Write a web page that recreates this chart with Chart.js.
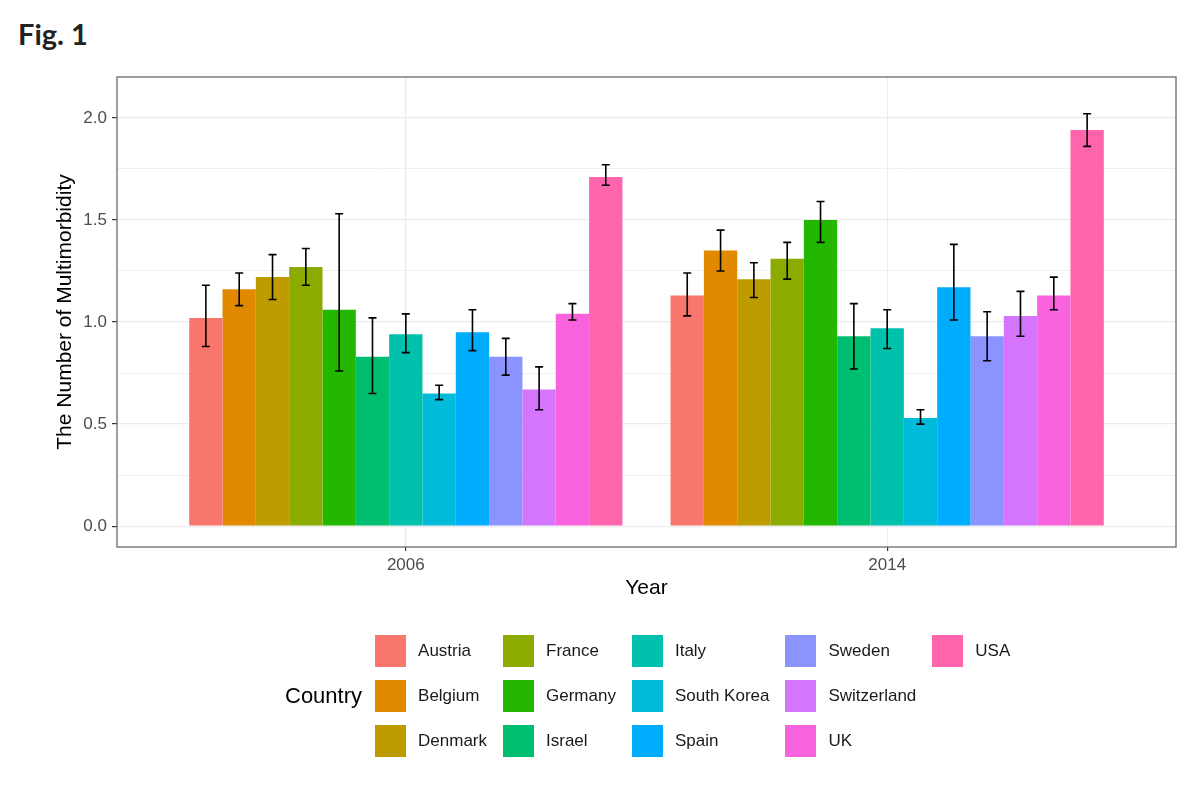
<!DOCTYPE html>
<html>
<head>
<meta charset="utf-8">
<script src="https://cdn.jsdelivr.net/npm/chart.js@4.4.1/dist/chart.umd.min.js"></script>
<style>
  html, body { margin: 0; padding: 0; background: #fff; }
  body { width: 1200px; height: 786px; position: relative; overflow: hidden; }
  #graph { position: absolute; left: 0; top: 0; }
  #fig { position: absolute; left: 18px; top: 19px; font: bold 29px/29px Lato, "Open Sans", sans-serif; color: #222; }
  #legend { position: absolute; left: 285px; top: 628px; display: flex; align-items: center; font-family: "Liberation Sans", Arial, sans-serif; }
  #legend .title { font-size: 22px; color: #000; margin-right: 13px; }
  #legend .items { display: grid; grid-auto-flow: column; grid-template-rows: repeat(3, 45px); column-gap: 16px; }
  #legend .item { display: flex; align-items: center; font-size: 17px; color: #1a1a1a; }
  #legend .sw { width: 31px; height: 32px; margin-right: 12px; }
</style>
</head>
<body>
<div id="fig">Fig. 1</div>
<canvas id="graph" width="1200" height="786"></canvas>
<div id="legend"><div class="title">Country</div><div class="items" id="items"></div></div>
<script>
const years = ['2006', '2014'];
const countries = ['Austria', 'Belgium', 'Denmark', 'France', 'Germany', 'Israel', 'Italy',
    'South Korea', 'Spain', 'Sweden', 'Switzerland', 'UK', 'USA'];
const colors = ['#F8766D', '#E18A00', '#BE9C00', '#8CAB00', '#24B700', '#00BE70', '#00C1AB',
    '#00BBDA', '#00ACFC', '#8B93FF', '#D575FE', '#F962DD', '#FF65AC'];

const mean2006 = [1.02, 1.16, 1.22, 1.27, 1.06, 0.83, 0.94, 0.65, 0.95, 0.83, 0.67, 1.04, 1.71];
const low2006  = [0.88, 1.08, 1.11, 1.18, 0.76, 0.65, 0.85, 0.62, 0.86, 0.74, 0.57, 1.01, 1.67];
const high2006 = [1.18, 1.24, 1.33, 1.36, 1.53, 1.02, 1.04, 0.69, 1.06, 0.92, 0.78, 1.09, 1.77];

const mean2014 = [1.13, 1.35, 1.21, 1.31, 1.50, 0.93, 0.97, 0.53, 1.17, 0.93, 1.03, 1.13, 1.94];
const low2014  = [1.03, 1.25, 1.12, 1.21, 1.39, 0.77, 0.87, 0.50, 1.01, 0.81, 0.93, 1.06, 1.86];
const high2014 = [1.24, 1.45, 1.29, 1.39, 1.59, 1.09, 1.06, 0.57, 1.38, 1.05, 1.15, 1.22, 2.02];

const yTicks = [0, 0.25, 0.5, 0.75, 1, 1.25, 1.5, 1.75, 2];

const means = [mean2006, mean2014];
const lows = [low2006, low2014];
const highs = [high2006, high2014];

Chart.defaults.font.family = '"Liberation Sans", Arial, sans-serif';

const datasets = countries.map((c, i) => ({
    label: c,
    data: years.map((y, j) => ({ x: j + 1, y: means[j][i] })),
    backgroundColor: colors[i],
    borderWidth: 0
}));

// error bars drawn on top of the bars
const errorBars = {
    id: 'errorBars',
    afterDatasetsDraw(chart) {
        const ctx = chart.ctx;
        const ys = chart.scales.y;
        ctx.save();
        ctx.strokeStyle = '#000';
        ctx.lineWidth = 1.6;
        chart.data.datasets.forEach((ds, i) => {
            const meta = chart.getDatasetMeta(i);
            meta.data.forEach((bar, j) => {
                const top = ys.getPixelForValue(highs[j][i]);
                const bot = ys.getPixelForValue(lows[j][i]);
                ctx.beginPath();
                ctx.moveTo(bar.x, top); ctx.lineTo(bar.x, bot);
                ctx.moveTo(bar.x - 4, top); ctx.lineTo(bar.x + 4, top);
                ctx.moveTo(bar.x - 4, bot); ctx.lineTo(bar.x + 4, bot);
                ctx.stroke();
            });
        });
        ctx.restore();
    },
    afterDraw(chart) {
        const a = chart.chartArea;
        const ctx = chart.ctx;
        ctx.save();
        ctx.strokeStyle = '#6b6b6b';
        ctx.lineWidth = 1.3;
        ctx.strokeRect(a.left, a.top, a.right - a.left, a.bottom - a.top);
        ctx.restore();
    }
};

new Chart(document.getElementById('graph'), {
    type: 'bar',
    data: { datasets: datasets },
    options: {
        responsive: false,
        animation: false,
        layout: { padding: { left: 45, right: 24, top: 77, bottom: 179 } },
        datasets: { bar: { categoryPercentage: 0.9, barPercentage: 1.0 } },
        plugins: { legend: { display: false }, tooltip: { enabled: false } },
        scales: {
            x: {
                type: 'linear',
                min: 0.4,
                max: 2.6,
                offset: false,
                afterBuildTicks: s => { s.ticks = years.map((y, j) => ({ value: j + 1 })); },
                afterFit: s => { s.height = 60; },
                grid: { offset: false, color: '#ebebeb', lineWidth: 1.2, tickColor: '#333', tickLength: 4 },
                border: { display: false },
                ticks: { color: '#4d4d4d', font: { size: 17 }, padding: 4, maxRotation: 0,
                    callback: v => years[v - 1] },
                title: { display: true, text: 'Year', color: '#000', font: { size: 21 }, padding: { top: 0, bottom: 6 } }
            },
            y: {
                min: -0.102,
                max: 2.2,
                afterBuildTicks: s => { s.ticks = yTicks.map(v => ({ value: v })); },
                afterFit: s => { s.width = 72; },
                grid: {
                    color: '#ebebeb',
                    lineWidth: c => (c.tick && c.tick.value * 2 % 1 === 0) ? 1.2 : 0.8,
                    tickColor: c => (c.tick && c.tick.value * 2 % 1 === 0) ? '#333' : 'rgba(0,0,0,0)',
                    tickLength: 5
                },
                border: { display: false },
                ticks: { color: '#4d4d4d', font: { size: 17 }, padding: 5,
                    callback: v => (v * 2 % 1 === 0) ? v.toFixed(1) : '' },
                title: { display: true, text: 'The Number of Multimorbidity', color: '#000', font: { size: 21 }, padding: { top: 8, bottom: 0 } }
            }
        }
    },
    plugins: [errorBars]
});

const items = document.getElementById('items');
countries.forEach((c, i) => {
    const d = document.createElement('div');
    d.className = 'item';
    d.innerHTML = '<span class="sw" style="background:' + colors[i] + '"></span><span>' + c + '</span>';
    items.appendChild(d);
});
</script>
</body>
</html>
